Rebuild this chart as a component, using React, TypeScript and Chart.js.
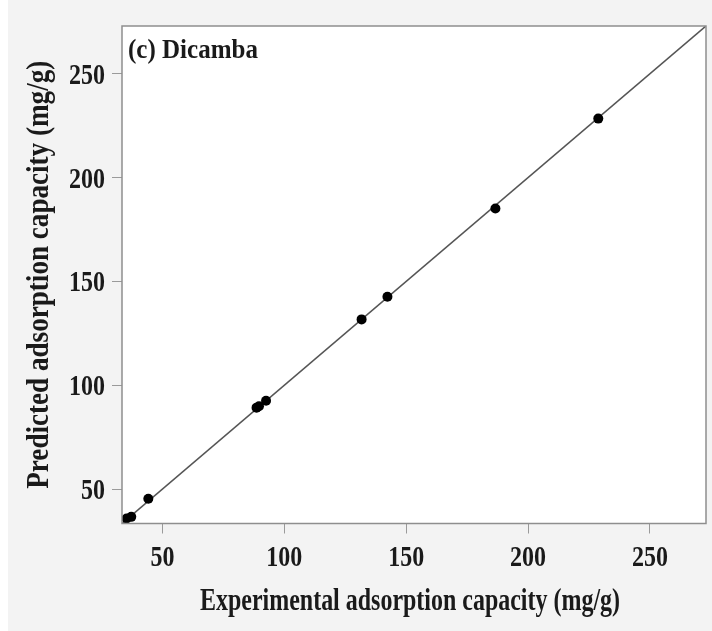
import React, { useEffect, useRef } from "react";
import { Chart, registerables } from "chart.js";

Chart.register(...registerables);

// ---- data ----
const experimental = [35.3, 37.2, 44.2, 88.6, 89.6, 92.5, 131.7, 142.3, 186.6, 228.8];
const predicted = [35.8, 36.6, 45.3, 89.2, 89.9, 92.5, 131.7, 142.6, 185.1, 228.4];
const axisMin = 33.4;
const axisMax = 273;
const xTicks = [50, 100, 150, 200, 250];
const yTicks = [50, 100, 150, 200, 250];
const xTitle = "Experimental adsorption capacity (mg/g)";
const yTitle = "Predicted adsorption capacity (mg/g)";
const panelLabel = "(c) Dicamba";

const FONT_FAMILY = '"Liberation Serif", "Times New Roman", serif';
const TEXT_COLOR = "#1a1a1a";

function drawScaledText(
  ctx: CanvasRenderingContext2D,
  text: string,
  x: number,
  y: number,
  font: string,
  opts: { scaleX?: number; width?: number; align?: CanvasTextAlign; rotate?: number }
) {
  ctx.save();
  ctx.font = font;
  ctx.fillStyle = TEXT_COLOR;
  ctx.textBaseline = "alphabetic";
  ctx.textAlign = opts.align || "left";
  let sx = opts.scaleX ?? 1;
  if (opts.width) sx = opts.width / ctx.measureText(text).width;
  ctx.translate(x, y);
  if (opts.rotate) ctx.rotate(opts.rotate);
  ctx.scale(sx, 1);
  ctx.fillText(text, 0, 0);
  ctx.restore();
}

const decorPlugin = {
  id: "decor",
  beforeDraw(chart: any) {
    const ctx: CanvasRenderingContext2D = chart.ctx;
    const { left, top, right, bottom } = chart.chartArea;
    ctx.save();
    ctx.fillStyle = "#f3f3f3";
    ctx.fillRect(0, 0, chart.width, chart.height);
    ctx.fillStyle = "#ffffff";
    ctx.fillRect(0, 0, 8, chart.height);
    ctx.fillRect(left, top, right - left, bottom - top);
    ctx.restore();
  },
  afterDraw(chart: any) {
    const ctx: CanvasRenderingContext2D = chart.ctx;
    const { left, top, right, bottom } = chart.chartArea;
    const xs = chart.scales.x;
    const ys = chart.scales.y;

    // plot frame
    ctx.save();
    ctx.strokeStyle = "#8e8e8e";
    ctx.lineWidth = 1.5;
    ctx.strokeRect(left, top, right - left, bottom - top);
    ctx.restore();

    const tickFont = `bold 30px ${FONT_FAMILY}`;
    xTicks.forEach((v) => {
      const px = xs.getPixelForValue(v);
      drawScaledText(ctx, String(v), px, bottom + 42, tickFont, { scaleX: 0.8, align: "center" });
    });
    yTicks.forEach((v) => {
      const py = ys.getPixelForValue(v);
      drawScaledText(ctx, String(v), left - 17, py + 10, tickFont, { scaleX: 0.8, align: "right" });
    });

    // axis titles
    drawScaledText(ctx, xTitle, (left + right) / 2 - 4, bottom + 86, `bold 31px ${FONT_FAMILY}`, {
      width: 420,
      align: "center",
    });
    drawScaledText(ctx, yTitle, 48, (top + bottom) / 2, `bold 31px ${FONT_FAMILY}`, {
      width: 428,
      align: "center",
      rotate: -Math.PI / 2,
    });

    // panel label
    drawScaledText(ctx, panelLabel, left + 6, top + 32, `bold 27px ${FONT_FAMILY}`, {
      width: 130,
      align: "left",
    });
  },
};

export default function App() {
  const canvasRef = useRef<HTMLCanvasElement | null>(null);

  useEffect(() => {
    if (!canvasRef.current) return;
    const points = experimental.map((x, i) => ({ x, y: predicted[i] }));
    const chart = new Chart(canvasRef.current, {
      type: "scatter",
      data: {
        datasets: [
          {
            label: "data",
            data: points,
            backgroundColor: "#000000",
            borderColor: "#000000",
            pointRadius: 5,
            pointHoverRadius: 5,
            borderWidth: 0,
            order: 0,
          },
          {
            type: "line",
            label: "1:1",
            data: [
              { x: axisMin, y: axisMin },
              { x: axisMax, y: axisMax },
            ],
            borderColor: "#555555",
            borderWidth: 1.6,
            pointRadius: 0,
            fill: false,
            order: 1,
          } as any,
        ],
      },
      options: {
        animation: false,
        responsive: true,
        maintainAspectRatio: false,
        layout: { padding: { left: 112, top: 26, right: 6, bottom: 97.5 } },
        plugins: { legend: { display: false }, tooltip: { enabled: false } },
        scales: {
          x: {
            type: "linear",
            min: axisMin,
            max: axisMax,
            afterBuildTicks: (s: any) => {
              s.ticks = xTicks.map((v) => ({ value: v }));
            },
            ticks: { display: false },
            border: { display: false },
            grid: {
              display: true,
              drawOnChartArea: false,
              drawTicks: true,
              tickLength: 10,
              color: "#9a9a9a",
              lineWidth: 1,
            },
          },
          y: {
            type: "linear",
            min: axisMin,
            max: axisMax,
            afterBuildTicks: (s: any) => {
              s.ticks = yTicks.map((v) => ({ value: v }));
            },
            ticks: { display: false },
            border: { display: false },
            grid: {
              display: true,
              drawOnChartArea: false,
              drawTicks: true,
              tickLength: 10,
              color: "#9a9a9a",
              lineWidth: 1,
            },
          },
        },
      },
      plugins: [decorPlugin],
    });
    return () => chart.destroy();
  }, []);

  return (
    <div style={{ position: "absolute", left: 0, top: 0, width: 712, height: 631 }}>
      <canvas ref={canvasRef} />
    </div>
  );
}
